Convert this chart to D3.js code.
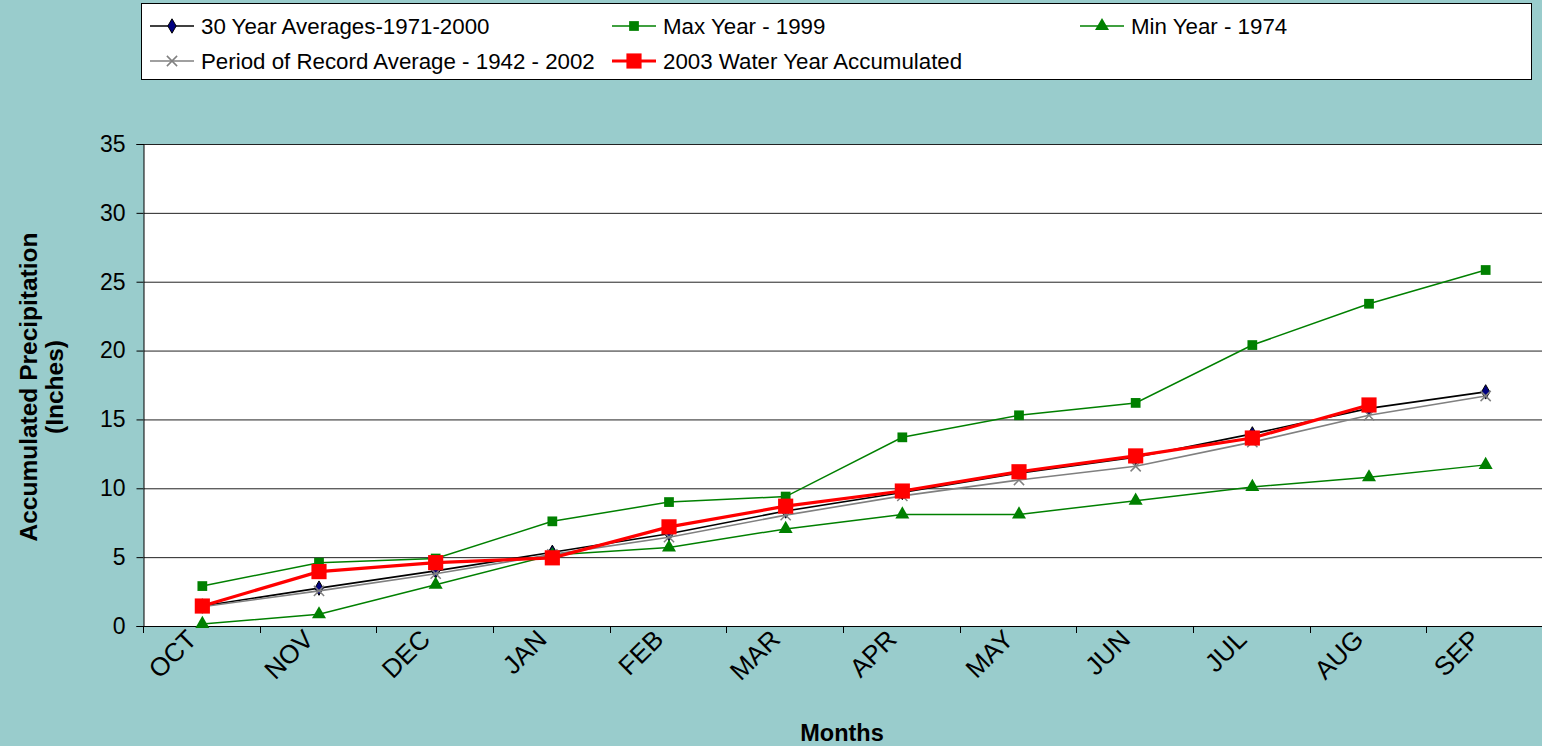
<!DOCTYPE html>
<html lang="en">
<head>
  <meta charset="UTF-8">
  <title>Accumulated Precipitation</title>
  <script src="https://d3js.org/d3.v7.min.js"></script>
  <style>
    body { margin: 0; background: #99cccc; }
    text { font-family: "Liberation Sans", Arial, sans-serif; }
  </style>
</head>
<body>
  <svg id="chart" width="1542" height="746"></svg>
  <script>
    const months = ['OCT', 'NOV', 'DEC', 'JAN', 'FEB', 'MAR', 'APR', 'MAY', 'JUN', 'JUL', 'AUG', 'SEP'];
    const avg30 = [1.45, 2.75, 4.0, 5.35, 6.7, 8.35, 9.7, 11.1, 12.25, 13.95, 15.8, 17.0];
    const maxYear = [2.9, 4.6, 4.9, 7.6, 9.0, 9.4, 13.7, 15.3, 16.2, 20.4, 23.4, 25.85];
    const minYear = [0.15, 0.85, 3.0, 5.15, 5.7, 7.05, 8.1, 8.1, 9.1, 10.1, 10.8, 11.7];
    const porAvg = [1.4, 2.55, 3.8, 5.2, 6.45, 8.05, 9.45, 10.6, 11.6, 13.35, 15.3, 16.7];
    const wy2003 = [1.45, 3.95, 4.6, 4.95, 7.2, 8.7, 9.8, 11.2, 12.35, 13.65, 16.05];
    const yTicks = [0, 5, 10, 15, 20, 25, 30, 35];

    const series = [
      { name: '30 Year Averages-1971-2000', values: avg30, color: '#000000', width: 1.6, marker: 'diamond', fill: '#000080', size: 60 },
      { name: 'Max Year - 1999', values: maxYear, color: '#008000', width: 1.5, marker: 'square', fill: '#008000', size: 95 },
      { name: 'Min Year - 1974', values: minYear, color: '#008000', width: 1.5, marker: 'triangle', fill: '#008000', size: 85 },
      { name: 'Period of Record Average - 1942 - 2002', values: porAvg, color: '#808080', width: 1.6, marker: 'cross', fill: '#808080', size: 70 },
      { name: '2003 Water Year Accumulated', values: wy2003, color: '#ff0000', width: 3.2, marker: 'square', fill: '#ff0000', size: 230 }
    ];

    const svg = d3.select('#chart');

    const x = d3.scaleBand().domain(months).range([144, 1544]);
    const y = d3.scaleLinear().domain([0, 35]).range([626, 144]);

    // plot area
    svg.append('rect')
      .attr('x', 144).attr('y', 144)
      .attr('width', 1400).attr('height', 482)
      .attr('fill', '#ffffff');

    // gridlines
    svg.append('g')
      .selectAll('line')
      .data(yTicks.slice(1))
      .enter().append('line')
      .attr('x1', 144).attr('x2', 1544)
      .attr('y1', d => y(d) + 0.5).attr('y2', d => y(d) + 0.5)
      .attr('stroke', '#222222').attr('stroke-width', 1);

    // y axis
    const yAxis = svg.append('g')
      .attr('transform', 'translate(143.5,0)')
      .call(d3.axisLeft(y).tickValues(yTicks).tickSize(7).tickPadding(11));
    yAxis.select('.domain').attr('stroke', '#000');
    yAxis.selectAll('.tick line').attr('stroke', '#000');
    yAxis.selectAll('.tick text')
      .attr('font-size', 23).attr('fill', '#000')
      .attr('font-family', '"Liberation Sans", Arial, sans-serif');

    // x axis
    svg.append('line')
      .attr('x1', 144).attr('x2', 1544)
      .attr('y1', 626.5).attr('y2', 626.5)
      .attr('stroke', '#000');

    const edges = months.map((m, i) => 144 + i * x.bandwidth()).concat([1544]);
    svg.append('g')
      .selectAll('line')
      .data(edges)
      .enter().append('line')
      .attr('x1', d => Math.round(d) - 0.5).attr('x2', d => Math.round(d) - 0.5)
      .attr('y1', 626).attr('y2', 633)
      .attr('stroke', '#000');

    svg.append('g')
      .selectAll('text')
      .data(months)
      .enter().append('text')
      .attr('transform', d => `translate(${x(d) + x.bandwidth() / 2 - 4},${641}) rotate(-45)`)
      .attr('text-anchor', 'end')
      .attr('font-size', 26)
      .attr('fill', '#000')
      .text(d => d);

    // axis titles
    svg.append('text')
      .attr('x', 842).attr('y', 741)
      .attr('text-anchor', 'middle')
      .attr('font-size', 23.5).attr('font-weight', 'bold')
      .text('Months');

    const yt = svg.append('text')
      .attr('transform', 'translate(37,387) rotate(-90)')
      .attr('text-anchor', 'middle')
      .attr('font-size', 24.5).attr('font-weight', 'bold');
    yt.append('tspan').attr('x', 0).attr('dy', 0).text('Accumulated Precipitation');
    yt.append('tspan').attr('x', 0).attr('dy', 26).text('(Inches)');

    // markers
    const symbolFor = {
      diamond: d3.symbolDiamond,
      square: d3.symbolSquare,
      triangle: d3.symbolTriangle,
      cross: d3.symbolTimes
    };

    function drawMarker(g, s, cx, cy) {
      const path = g.append('path')
        .attr('transform', `translate(${cx},${cy})`)
        .attr('d', d3.symbol().type(symbolFor[s.marker]).size(s.size)());
      if (s.marker === 'cross') {
        path.attr('fill', 'none').attr('stroke', s.fill).attr('stroke-width', 1.5);
      } else if (s.marker === 'diamond') {
        path.attr('fill', s.fill).attr('stroke', '#000').attr('stroke-width', 1);
      } else {
        path.attr('fill', s.fill);
      }
    }

    const line = d3.line()
      .x((d, i) => x(months[i]) + x.bandwidth() / 2)
      .y(d => y(d));

    series.forEach(s => {
      const g = svg.append('g');
      g.append('path')
        .attr('d', line(s.values))
        .attr('fill', 'none')
        .attr('stroke', s.color)
        .attr('stroke-width', s.width);
      s.values.forEach((v, i) => drawMarker(g, s, x(months[i]) + x.bandwidth() / 2, y(v)));
    });

    // legend
    svg.append('rect')
      .attr('x', 141.5).attr('y', 3.5)
      .attr('width', 1390).attr('height', 76)
      .attr('fill', '#ffffff')
      .attr('stroke', '#000').attr('stroke-width', 1);

    const legendPos = [
      [150, 26], [612, 26], [1080, 26],
      [150, 61], [612, 61]
    ];
    series.forEach((s, i) => {
      const [lx, ly] = legendPos[i];
      const g = svg.append('g');
      g.append('line')
        .attr('x1', lx).attr('x2', lx + 44)
        .attr('y1', ly).attr('y2', ly)
        .attr('stroke', s.color).attr('stroke-width', s.width);
      drawMarker(g, s, lx + 22, ly);
      g.append('text')
        .attr('x', lx + 51).attr('y', ly + 8)
        .attr('font-size', 22.3)
        .attr('fill', '#000')
        .text(s.name);
    });
  </script>
</body>
</html>
